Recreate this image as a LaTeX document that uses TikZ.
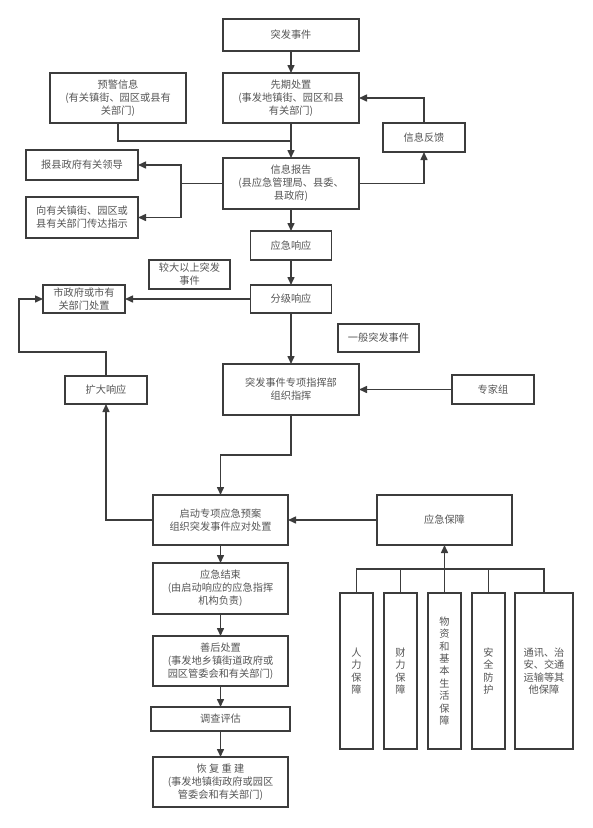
\documentclass[tikz,border=0pt]{standalone}
\usepackage{fontspec}
\setmainfont{Noto Sans CJK SC}
\usetikzlibrary{arrows.meta}
\definecolor{linegray}{HTML}{3C3C3C}
\definecolor{textgray}{HTML}{555555}

\begin{document}
\begin{tikzpicture}[x=1pt, y=-1pt,
  box/.style={draw=linegray, line width=1.5pt, inner sep=0pt, outer sep=0pt,
    align=center, text=textgray, font=\fontsize{10.2}{13}\selectfont},
  vbox/.style={font=\fontsize{10.2}{12.4}\selectfont},
  dim/.style 2 args={minimum width=#1pt, minimum height=#2pt},
  link/.style={draw=linegray, line width=1.5pt},
  arr/.style={link, -{Triangle[length=8pt,width=7pt]}}]
  \useasboundingbox (0,0) rectangle (593,828);

  % reporting part
  \node[box, dim={136}{32}] (tufa) at (291,35) {突发事件};
  \node[box, dim={136}{50}] (xianqi) at (291,98) {先期处置\\(事发地镇街、园区和县\\有关部门)};
  \node[box, dim={136}{50}] (yujing) at (118,98) {预警信息\\(有关镇街、园区或县有\\关部门)};
  \node[box, dim={82}{29}] (fankui) at (424,137.5) {信息反馈};
  \node[box, dim={112}{30}] (lingdao) at (82,165) {报县政府有关领导};
  \node[box, dim={112}{41}] (zhishi) at (82,217.5) {向有关镇街、园区或\\县有关部门传达指示};
  \node[box, dim={136}{51}] (baogao) at (291,183.5) {信息报告\\(县应急管理局、县委、\\县政府)};

  % response part
  \node[box, dim={81}{29}] (xiangying) at (291,245.5) {应急响应};
  \node[box, dim={81}{28}] (fenji) at (291,299) {分级响应};
  \node[box, dim={81}{29}] (jiaoda) at (189.5,274.5) {较大以上突发\\事件};
  \node[box, dim={82}{28}] (shizf) at (84,299) {市政府或市有\\关部门处置};
  \node[box, dim={81}{28}] (yiban) at (378.5,338) {一般突发事件};
  \node[box, dim={136}{51}] (zhihui) at (291,389.5) {突发事件专项指挥部\\组织指挥};
  \node[box, dim={82}{29}] (zhuanjia) at (493,389.5) {专家组};
  \node[box, dim={82}{28}] (kuoda) at (106,390) {扩大响应};

  % handling and recovery
  \node[box, dim={135}{50}] (qidong) at (220.5,520) {启动专项应急预案\\组织突发事件应对处置};
  \node[box, dim={135}{50}] (baozhang) at (444.5,520) {应急保障};
  \node[box, dim={135}{51}] (jieshu) at (220.5,588.5) {应急结束\\(由启动响应的应急指挥\\机构负责)};
  \node[box, dim={135}{50}] (shanhou) at (220.5,661) {善后处置\\(事发地乡镇街道政府或\\园区管委会和有关部门)};
  \node[box, dim={139}{24}] (diaocha) at (220.5,719) {调查评估};
  \node[box, dim={135}{50}] (chongjian) at (220.5,782) {恢 复 重 建\\(事发地镇街政府或园区\\管委会和有关部门)};

  % support columns
  \foreach \name/\x/\w/\txt in {renli/356.5/33/{人\\力\\保\\障},
      caili/400.5/33/{财\\力\\保\\障},
      wuzi/444.5/33/{物\\资\\和\\基\\本\\生\\活\\保\\障},
      anquan/488.5/33/{安\\全\\防\\护},
      tongxun/544/58/{通讯、治\\安、交通\\运输等其\\他保障}} {
    \node[box, vbox, dim={\w}{156}] (\name) at (\x,671) {\txt};
  }

  \coordinate (meet) at (291,141);
  \coordinate (split) at (181,183.5);
  \coordinate (bend) at (220.5,455);
  \coordinate (loop) at (19,352);
  \coordinate (bus) at (444.5,569);

  \draw[arr] (tufa) -- (xianqi);
  \draw[arr] (xianqi) -- (baogao);
  \draw[link] (yujing.south) |- (meet);
  \draw[link] (baogao.west) -- (split);
  \draw[arr] (split) |- (lingdao.east);
  \draw[arr] (split) |- (zhishi.east);
  \draw[arr] (baogao.east) -| (fankui.south);
  \draw[arr] (fankui.north) |- (xianqi.east);
  \draw[arr] (baogao) -- (xiangying);
  \draw[arr] (xiangying) -- (fenji);
  \draw[arr] (fenji) -- (shizf);
  \draw[arr] (fenji) -- (zhihui);
  \draw[arr] (zhuanjia) -- (zhihui);
  \draw[arr] (zhihui.south) |- (bend) -- (qidong.north);
  \draw[arr] (qidong.west) -| (kuoda.south);
  \draw[arr] (kuoda.north) |- (loop) |- (shizf.west);
  \draw[arr] (baozhang) -- (qidong);
  \foreach \a/\b in {qidong/jieshu, jieshu/shanhou, shanhou/diaocha, diaocha/chongjian}
    \draw[arr] (\a) -- (\b);
  \foreach \name in {renli, caili, wuzi, anquan, tongxun}
    \draw[link] (\name.north) |- (bus);
  \draw[arr] (bus) -- (baozhang.south);
\end{tikzpicture}
\end{document}
